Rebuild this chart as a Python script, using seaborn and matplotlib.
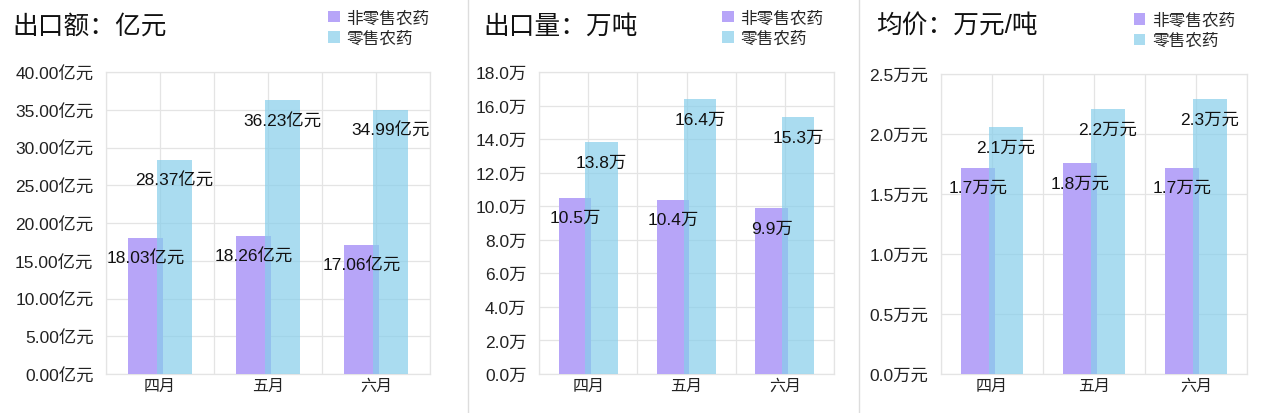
import matplotlib
matplotlib.use("Agg")
import pandas as pd
import seaborn as sns
import matplotlib.pyplot as plt
from matplotlib.lines import Line2D

months = ["四月", "五月", "六月"]
series = ["非零售农药", "零售农药"]

amount_nonretail = [18.03, 18.26, 17.06]
amount_retail = [28.37, 36.23, 34.99]
volume_nonretail = [10.5, 10.4, 9.9]
volume_retail = [13.8, 16.4, 15.3]
price_nonretail = [1.72, 1.76, 1.72]
price_retail = [2.06, 2.21, 2.29]

titles = ["出口额：亿元", "出口量：万吨", "均价：万元/吨"]
y_ticks = [[0, 5, 10, 15, 20, 25, 30, 35, 40],
           [0, 2, 4, 6, 8, 10, 12, 14, 16, 18],
           [0, 0.5, 1.0, 1.5, 2.0, 2.5]]
tick_fmt = ["{:.2f}亿元", "{:.1f}万", "{:.1f}万元"]
label_fmt = ["{:.2f}亿元", "{:.1f}万", "{:.1f}万元"]

sns.set_theme(style="white")
plt.rcParams["font.family"] = ["Liberation Sans", "Noto Sans CJK SC", "DejaVu Sans"]

purple = "#b7a5f8"
cyan = (135 / 255, 206 / 255, 235 / 255, 0.7)
grid_col = "#e4e4e4"

fig = plt.figure(figsize=(12.8, 4.14), dpi=100)

axes_rects = [[106 / 1280, 39 / 414, 324 / 1280, 302 / 414],
              [539 / 1280, 39 / 414, 295 / 1280, 302 / 414],
              [941 / 1280, 39 / 414, 306 / 1280, 300 / 414]]
title_x = [12, 483, 876]
legend_x = [0.685, 0.62, 0.63]

data_sets = [(amount_nonretail, amount_retail),
             (volume_nonretail, volume_retail),
             (price_nonretail, price_retail)]

for i, (nonretail, retail) in enumerate(data_sets):
    ax = fig.add_axes(axes_rects[i])
    df = pd.DataFrame({
        "月份": months * 2,
        "类别": [series[0]] * 3 + [series[1]] * 3,
        "值": list(nonretail) + list(retail),
    })
    sns.barplot(data=df, x="月份", y="值", hue="类别", order=months,
                hue_order=series, palette=[purple, cyan], width=0.54,
                gap=-0.22, saturation=1, errorbar=None, linewidth=0,
                edgecolor="none", ax=ax, zorder=3)

    ax.set_xlim(-0.5, 2.5)
    ax.set_ylim(y_ticks[i][0], y_ticks[i][-1])
    ax.set_yticks(y_ticks[i])
    ax.set_yticklabels([tick_fmt[i].format(t) for t in y_ticks[i]])
    ax.set_xticks([-0.5, 0.5, 1.5, 2.5], minor=True)
    ax.grid(True, which="both", color=grid_col, linewidth=0.9, zorder=0)
    ax.set_axisbelow(True)
    ax.tick_params(axis="y", length=0, pad=9, labelsize=12.5, labelcolor="#222222")
    ax.tick_params(axis="x", which="both", length=0, pad=3, labelsize=11.5, labelcolor="#222222")
    ax.set_xlabel("")
    ax.set_ylabel("")
    for s in ax.spines.values():
        s.set_color(grid_col)
        s.set_linewidth(0.9)

    # value labels a bit below each bar top
    for container in ax.containers:
        for bar in container:
            h = bar.get_height()
            ax.annotate(label_fmt[i].format(h),
                        (bar.get_x() + bar.get_width() / 2, h),
                        xytext=(0, -20), textcoords="offset pixels",
                        ha="center", va="center", fontsize=12.5,
                        color="#111111", zorder=5)

    handles, labels = ax.get_legend_handles_labels()
    ax.legend(handles, labels, loc="upper left",
              bbox_to_anchor=(legend_x[i], 1.205), frameon=False,
              fontsize=12, handlelength=0.7, handleheight=0.7,
              handletextpad=0.4, labelspacing=0.3, borderpad=0,
              borderaxespad=0)

    fig.text(title_x[i] / 1280, 1 - 27 / 414, titles[i], fontsize=18.5,
             ha="left", va="center", color="#111111")

# panel separators
for xs in [468, 859]:
    fig.add_artist(Line2D([xs / 1280, xs / 1280], [0, 1],
                          color="#dddddd", linewidth=1))

fig.savefig("out.png", dpi=100)
